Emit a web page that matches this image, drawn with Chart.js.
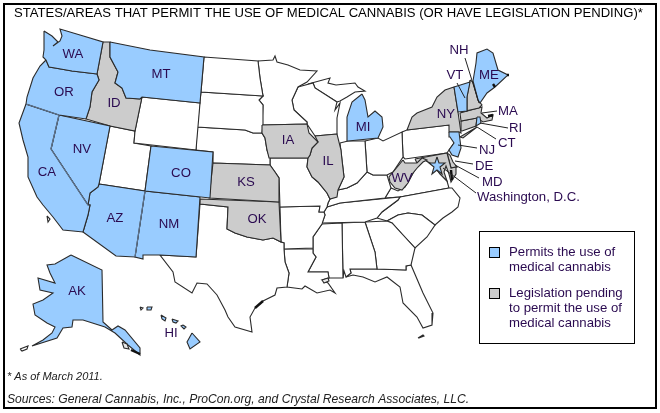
<!DOCTYPE html>
<html>
<head>
<meta charset="utf-8">
<script src="https://cdn.jsdelivr.net/npm/chart.js@4/dist/chart.umd.min.js"></script>
<style>
html, body { margin: 0; padding: 0; background: #fff; }
canvas { display: block; }
</style>
</head>
<body>
<canvas id="mapa" width="660" height="413"></canvas>
<script>
// outlines, in map units (x, y)
const WA = [[44,31],[52,36],[58,42],[53,46],[60,41],[62,36],[60,29],[80,35],[103,42],[97,74],[72,71],[55,68],[49,67],[46,60],[43,57],[44,50]];
const OR = [[46,60],[49,67],[55,68],[72,71],[97,74],[99,80],[92,92],[90,107],[86,119],[59,115],[26,104],[27,97],[33,78],[40,66]];
const ID = [[103,42],[110,42],[110,57],[118,72],[115,83],[122,88],[126,98],[140,99],[142,97],[135,131],[110,126],[86,119],[90,107],[92,92],[99,80],[97,74]];
const MT = [[110,42],[150,50],[204,57],[200,103],[142,97],[140,99],[126,98],[122,88],[115,83],[118,72],[110,57]];
const WY = [[142,97],[200,103],[196,150],[134,143],[135,131]];
const UT = [[110,126],[135,131],[134,143],[151,146],[145,191],[99,184]];
const CO = [[151,146],[213,152],[210,198],[145,191]];
const NV = [[59,115],[110,126],[99,184],[98,187],[90,193],[88,205],[51,149]];
const CA = [[26,104],[59,115],[51,149],[88,205],[90,205],[88,215],[83,232],[63,230],[53,217],[43,205],[37,197],[28,177],[28,157],[23,140],[19,123]];
const AZ = [[99,184],[145,191],[135,257],[116,256],[83,232],[88,215],[90,205],[88,205],[90,193],[98,187]];
const NM = [[145,191],[200,197],[196,257],[160,255],[143,255],[143,259],[135,257]];
const ND = [[204,57],[258,61],[260,78],[263,96],[201,92]];
const SD = [[201,92],[263,96],[259,100],[263,105],[263,125],[262,133],[253,133],[245,130],[197,127]];
const NE = [[197,127],[245,130],[253,133],[262,133],[265,138],[267,150],[270,158],[270,165],[213,163],[213,152],[196,150]];
const KS = [[213,163],[270,165],[275,172],[279,178],[279,202],[209,198]];
const OK = [[200,199],[279,202],[281,242],[273,238],[263,240],[247,237],[235,233],[227,229],[228,207],[200,204]];
const TX = [[200,204],[228,207],[227,229],[235,233],[247,237],[263,240],[273,238],[281,242],[284,243],[284,249],[285,262],[289,273],[287,287],[277,288],[275,295],[263,301],[255,308],[250,317],[252,332],[235,327],[228,317],[225,310],[217,295],[207,284],[197,283],[192,293],[175,282],[173,272],[160,255],[196,257]];
const MN = [[258,61],[273,60],[275,56],[277,62],[288,65],[300,70],[317,71],[307,82],[298,87],[292,100],[294,110],[307,122],[307,124],[262,125],[263,105],[259,100],[263,96],[260,78]];
const IA = [[262,125],[307,124],[309,133],[318,142],[312,148],[310,155],[308,158],[269,158],[267,150],[265,138],[262,133]];
const MO = [[269,158],[308,158],[307,167],[312,177],[318,182],[327,193],[330,199],[328,203],[327,207],[324,212],[319,212],[320,206],[280,207],[279,178],[275,172],[270,165],[270,158]];
const AR = [[280,207],[320,206],[319,212],[324,212],[325,215],[322,224],[313,237],[313,248],[284,249],[284,243],[281,242]];
const LA = [[284,249],[313,249],[313,253],[316,257],[308,272],[328,272],[329,278],[322,280],[328,283],[335,293],[330,290],[317,293],[305,286],[302,289],[287,287],[289,273],[285,262]];
const WI = [[298,87],[313,83],[315,88],[337,102],[335,110],[340,103],[337,118],[337,134],[315,136],[307,124],[307,122],[294,110],[292,100]];
const UP = [[308,84],[330,78],[328,83],[336,85],[355,83],[358,87],[365,91],[355,92],[347,97],[340,101],[337,102],[315,88],[313,83]];
const MI = [[362,94],[365,100],[368,117],[375,111],[382,117],[383,127],[378,138],[348,141],[347,117],[352,102]];
const IL = [[315,136],[337,134],[341,150],[342,160],[344,177],[338,190],[337,197],[330,199],[327,193],[318,182],[312,177],[307,167],[308,158],[310,155],[312,148],[318,142]];
const IN = [[340,143],[348,141],[365,141],[367,172],[357,183],[347,188],[338,190],[344,177],[342,160]];
const OH = [[365,141],[378,138],[383,141],[402,132],[403,157],[393,172],[387,175],[373,175],[367,172]];
const KY = [[330,199],[338,190],[347,188],[357,183],[367,172],[373,175],[387,175],[391,188],[385,198],[340,203],[327,207],[328,203]];
const TN = [[327,207],[340,203],[400,197],[398,200],[382,212],[377,218],[365,222],[322,223],[325,215],[324,212]];
const MS = [[322,224],[342,223],[343,278],[329,278],[328,272],[308,272],[316,257],[313,253],[313,237]];
const AL = [[342,223],[365,222],[375,252],[377,269],[350,269],[351,273],[346,277],[344,271],[343,278]];
const GA = [[365,222],[387,221],[392,223],[403,235],[415,248],[411,265],[406,266],[406,270],[377,269],[375,252]];
const SC = [[387,221],[398,215],[408,213],[422,215],[435,225],[427,237],[415,248],[403,235],[392,223]];
const NC = [[400,197],[449,188],[452,188],[460,198],[458,207],[452,212],[443,218],[435,225],[422,215],[408,213],[398,215],[387,221],[377,218],[382,212],[398,200]];
const VA = [[385,198],[391,188],[398,191],[405,187],[412,175],[418,165],[425,160],[433,165],[440,174],[447,181],[449,188],[400,197]];
const FL = [[346,277],[351,273],[350,269],[377,269],[406,270],[406,266],[411,265],[423,293],[433,313],[432,325],[423,328],[417,317],[403,303],[400,287],[387,277],[375,282],[363,277],[353,275]];
const WV = [[403,160],[405,163],[412,163],[417,163],[422,158],[427,160],[423,162],[418,167],[413,173],[408,183],[402,190],[395,188],[390,182],[389,177]];
const PA = [[402,132],[407,130],[449,125],[452,132],[454,143],[449,150],[447,153],[405,159],[403,157]];
const MD = [[415,159],[447,153],[451,168],[456,167],[456,174],[451,182],[449,174],[446,166],[444,172],[447,181],[440,174],[433,165],[425,160],[417,163]];
const DE = [[447,153],[450,155],[453,162],[457,167],[451,168]];
const NY = [[407,130],[412,117],[417,113],[432,107],[437,97],[445,90],[454,87],[458,112],[461,133],[459,132],[449,132],[449,125]];
const LI = [[460,137],[477,127],[463,138]];
const VT = [[454,87],[470,82],[467,97],[467,111],[458,112]];
const NH = [[470,80],[473,82],[478,100],[482,105],[479,108],[461,112],[467,111],[467,97]];
const ME = [[473,81],[476,63],[477,53],[487,49],[493,53],[498,70],[508,75],[495,87],[487,93],[480,103],[478,100]];
const MA = [[460,113],[482,107],[481,113],[487,118],[493,115],[492,120],[483,122],[477,118],[461,121]];
const CT = [[461,121],[477,118],[476,126],[462,131]];
const RI = [[477,117],[480,117],[481,123],[476,126]];
const NJ = [[449,132],[459,132],[460,140],[461,148],[458,157],[452,155],[449,150],[454,143],[450,137]];
const DC = [[437,157],[439,163],[445,163],[440,167],[442,174],[437,170],[432,174],[434,167],[429,163],[435,163]];
const AK = [[71,255],[102,270],[103,322],[112,330],[118,326],[125,330],[140,348],[140,355],[128,345],[115,333],[105,327],[83,320],[73,320],[72,327],[63,328],[57,338],[32,346],[43,340],[52,333],[55,327],[47,323],[35,315],[33,304],[43,300],[53,293],[40,290],[38,278],[55,283],[50,273],[47,265],[55,264]];
const HI1 = [[192,333],[200,342],[190,349],[187,342]];
const HI2 = [[183,325],[186,327],[184,329],[181,326]];
const HI3 = [[172,319],[178,321],[176,323],[173,322]];
const HI4 = [[161,315],[166,318],[165,321],[162,319]];
const HI5 = [[147,307],[152,307],[151,310],[147,310]];
const HI6 = [[140,307],[143,308],[141,310]];
const ALEUTIAN = [[20,349],[28,346],[27,349],[22,351]];
const KODIAK = [[122,342],[127,344],[129,349],[124,348]];
const FL_KEYS = [[418,338],[423,335],[424,336],[419,338]];
const CHANNEL = [[47,216],[50,219],[48,222]];
const PONTCHARTRAIN = [[322,280],[328,278],[329,281],[324,283]];

const statesPermit = [WA, OR, MT, CA, NV, CO, AZ, NM, MI, VT, ME, RI, NJ, AK, HI1, HI2, HI3, HI4, HI5];
const statesPending = [ID, IA, KS, OK, IL, WV, NY, LI, NH, MA, CT, MD, DE];
const statesOther = [WY, UT, ND, SD, NE, TX, MN, MO, AR, LA, WI, UP, IN, OH, KY, TN, MS, AL, GA, SC, NC, VA, FL, PA, ALEUTIAN, FL_KEYS, CHANNEL, HI6];
const islandsOnTop = [KODIAK, PONTCHARTRAIN];

const leaderLines = [
    [[465,58],[479,103]], [[457,83],[465,98]], [[497,111],[482,113]],
    [[508,128],[480,123]], [[496,139],[477,127]], [[477,148],[458,145]],
    [[473,164],[455,161]], [[479,178],[455,165]], [[476,193],[443,168]]
];
const innerLines = [[[59,115],[51,149],[88,205]], [[145,191],[135,257]], [[26,104],[59,115]]];
const bayLines = [
    [[263,301],[255,308]], [[493,84],[495,87]], [[507,75],[509,75]],
    [[488,116],[493,115]], [[131,350],[140,354]], [[451,170],[452,180]]
];

const stateNames = ["WA","OR","ID","MT","NV","CA","CO","AZ","NM","KS","OK","IA","IL","MI","WV","NY","NH","VT","ME","AK","HI"];
const stateNameX = [73,64,114,161,82,47,181,115,169,246,257,288,328,363,402,446,459,455,489,77,171];
const stateNameY = [54,92,103,74,149,172,173,218,224,182,219,140,161,127,178,114,50,75,75,291,333];

const calloutNames = ["MA","RI","CT","NJ","DE","MD","Washington, D.C."];
const calloutX = [498,509,498,479,475,482,477];
const calloutY = [111,128,143,150,166,182,197];

const legendLines = ["Permits the use of","medical cannabis","Legislation pending","to permit the use of","medical cannabis"];
const legendLineY = [252,267,293,308,323];

const titulo = "STATES/AREAS THAT PERMIT THE USE OF MEDICAL CANNABIS (OR HAVE LEGISLATION PENDING)*";
const nota = "* As of March 2011.";
const fontes = "Sources: General Cannabis, Inc., ProCon.org, and Crystal Research Associates, LLC.";

const BLUE = "#99ccff";
const GRAY = "#cccccc";
const LINE = "#2b2b2b";
const TEXT = "#2a0a50";

function toPoints(shape) {
    return shape.map(p => ({ x: p[0], y: p[1] }));
}

function polygon(shape, color) {
    const pts = toPoints(shape);
    pts.push(pts[0]);
    return {
        data: pts,
        showLine: true,
        fill: "shape",
        backgroundColor: color,
        borderColor: LINE,
        borderWidth: 1.1,
        pointRadius: 0
    };
}

function stroke(shape, color, width) {
    return {
        data: toPoints(shape),
        showLine: true,
        fill: false,
        borderColor: color,
        borderWidth: width,
        pointRadius: 0
    };
}

// first dataset is painted on top, so lines go first
const datasets = [
    ...leaderLines.map(l => stroke(l, "#222222", 1)),
    ...bayLines.map(l => stroke(l, "#111111", 2.4)),
    ...innerLines.map(l => stroke(l, "#5f7590", 1.2)),
    polygon(DC, BLUE),
    ...islandsOnTop.map(s => polygon(s, "#e8e8e8")),
    ...statesPermit.map(s => polygon(s, BLUE)),
    ...statesPending.map(s => polygon(s, GRAY)),
    ...statesOther.map(s => polygon(s, "#ffffff"))
];

const textosPlugin = {
    id: "textos",
    afterDatasetsDraw(chart) {
        const ctx = chart.ctx;
        const sx = chart.scales.x;
        const sy = chart.scales.y;
        ctx.save();
        ctx.textBaseline = "middle";

        ctx.strokeStyle = "#000";
        ctx.lineWidth = 2;
        ctx.strokeRect(sx.getPixelForValue(4), sy.getPixelForValue(4), 652, 404);
        ctx.lineWidth = 1;
        ctx.strokeRect(sx.getPixelForValue(479.5), sy.getPixelForValue(231.5), 155, 112);

        ctx.fillStyle = BLUE;
        ctx.fillRect(489.5, 247.5, 10, 10);
        ctx.strokeRect(489.5, 247.5, 10, 10);
        ctx.fillStyle = GRAY;
        ctx.fillRect(489.5, 288.5, 10, 10);
        ctx.strokeRect(489.5, 288.5, 10, 10);

        ctx.fillStyle = "#000";
        ctx.textAlign = "left";
        ctx.font = "13.1px 'Liberation Sans'";
        ctx.fillText(titulo, 14, 13);

        ctx.fillStyle = TEXT;
        ctx.font = "13.2px 'Liberation Sans'";
        ctx.textAlign = "center";
        stateNames.forEach((n, i) => ctx.fillText(n, sx.getPixelForValue(stateNameX[i]), sy.getPixelForValue(stateNameY[i])));
        ctx.textAlign = "left";
        calloutNames.forEach((n, i) => ctx.fillText(n, sx.getPixelForValue(calloutX[i]), sy.getPixelForValue(calloutY[i])));
        legendLines.forEach((n, i) => ctx.fillText(n, sx.getPixelForValue(509), sy.getPixelForValue(legendLineY[i])));

        ctx.fillStyle = "#222";
        ctx.font = "italic 11px 'Liberation Sans'";
        ctx.fillText(nota, 7, 377);
        ctx.font = "italic 12.15px 'Liberation Sans'";
        ctx.fillText(fontes, 7, 400);
        ctx.restore();
    }
};

new Chart(document.getElementById("mapa").getContext("2d"), {
    type: "scatter",
    data: { datasets: datasets },
    options: {
        responsive: false,
        animation: false,
        devicePixelRatio: 1,
        layout: { padding: 0 },
        plugins: { legend: { display: false }, tooltip: { enabled: false }, title: { display: false } },
        scales: {
            x: { type: "linear", min: 0, max: 660, display: false },
            y: { type: "linear", min: 0, max: 413, reverse: true, display: false }
        },
        elements: { line: { tension: 0 } }
    },
    plugins: [textosPlugin]
});
</script>
</body>
</html>
